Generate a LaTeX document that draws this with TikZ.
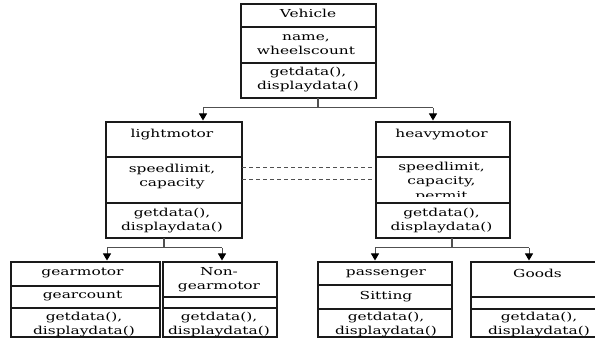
\documentclass[tikz,border=0pt]{standalone}
\usepackage{fontspec}
\usetikzlibrary{arrows.meta,calc}
\newfontfamily\umlfont{DejaVu Serif}[FakeStretch=1.4]
\definecolor{conncol}{HTML}{505050}
\definecolor{boxcol}{HTML}{1A1A1A}
\tikzset{
  umlbox/.style={draw=boxcol, line width=1.3pt, inner sep=0pt, outer sep=0pt, fill=white},
  divider/.style={draw=boxcol, line width=1.3pt},
  txt/.style={font=\umlfont\fontsize{11}{14.5}\selectfont, align=center, inner sep=0pt, text height=8pt, text depth=2.5pt, text=black},
  conn/.style={draw=conncol, line width=1pt},
  stem/.style={draw=conncol, line width=1.6pt},
  arrowconn/.style={draw=conncol, line width=1pt, -{Triangle[width=8pt,length=7pt,color=black]}, shorten >=1.5pt},
  dashline/.style={draw=conncol, line width=1pt, dash pattern=on 4pt off 3pt}
}
\begin{document}
\begin{tikzpicture}[x=1pt,y=-1pt]
\useasboundingbox (0,0) rectangle (595,347);
% ---------- boxes ----------
\node[umlbox, minimum width=135pt, minimum height=94pt] (veh) at (308.5,51) {};
\node[umlbox, minimum width=136pt, minimum height=116pt] (lm) at (174,180) {};
\node[umlbox, minimum width=134pt, minimum height=116pt] (hm) at (443,180) {};
\node[umlbox, minimum width=149pt, minimum height=75pt] (gm) at (85.5,299.5) {};
\node[umlbox, minimum width=114pt, minimum height=75pt] (ngm) at (220,299.5) {};
\node[umlbox, minimum width=134pt, minimum height=75pt] (pas) at (385,299.5) {};
\begin{scope}
\clip (0,0) rectangle (595,347);
\node[umlbox, minimum width=134pt, minimum height=75pt] (gds) at (538,299.5) {};
\draw[divider] (gds.west |- 0,297) -- (gds.east |- 0,297);
\draw[divider] (gds.west |- 0,309) -- (gds.east |- 0,309);
\end{scope}
% ---------- dividers ----------
\draw[divider] (veh.west |- 0,27) -- (veh.east |- 0,27);
\draw[divider] (veh.west |- 0,63) -- (veh.east |- 0,63);
\draw[divider] (lm.west |- 0,157) -- (lm.east |- 0,157);
\draw[divider] (lm.west |- 0,203) -- (lm.east |- 0,203);
\draw[divider] (hm.west |- 0,157) -- (hm.east |- 0,157);
\draw[divider] (hm.west |- 0,203) -- (hm.east |- 0,203);
\draw[divider] (gm.west |- 0,286) -- (gm.east |- 0,286);
\draw[divider] (gm.west |- 0,308) -- (gm.east |- 0,308);
\draw[divider] (ngm.west |- 0,297) -- (ngm.east |- 0,297);
\draw[divider] (ngm.west |- 0,308) -- (ngm.east |- 0,308);
\draw[divider] (pas.west |- 0,285) -- (pas.east |- 0,285);
\draw[divider] (pas.west |- 0,309) -- (pas.east |- 0,309);
% ---------- texts (multi-line nodes are placed at their last line) ----------
\node[txt] (vehT) at (308,15) {Vehicle};
\node[txt] (vehA) at (306,52) {name,\\wheelscount};
\node[txt] (vehM) at (308,87) {getdata(),\\displaydata()};
\node[txt] (lmT) at (172,135) {lightmotor};
\node[txt] (lmA) at (172,184) {speedlimit,\\capacity};
\node[txt] (lmM) at (172,228) {getdata(),\\displaydata()};
\node[txt] (hmT) at (441.5,135) {heavymotor};
\begin{scope}
\clip (hm.west |- 0,158) rectangle (hm.east |- 0,197);
\node[txt] (hmA) at (441.5,196.5) {speedlimit,\\capacity,\\permit};
\end{scope}
\node[txt] (hmM) at (441.5,228) {getdata(),\\displaydata()};
\node[txt] (gmT) at (82.5,273) {gearmotor};
\node[txt] (gmA) at (82.5,296) {gearcount};
\node[txt] (gmM) at (84,332) {getdata(),\\displaydata()};
\node[txt] (ngmT) at (219,287) {Non-\\gearmotor};
\node[txt] (ngmM) at (219,332) {getdata(),\\displaydata()};
\node[txt] (pasT) at (386,273) {passenger};
\node[txt] (pasA) at (386,297) {Sitting};
\node[txt] (pasM) at (386,332) {getdata(),\\displaydata()};
\node[txt] (gdsT) at (537.5,275) {Goods};
\node[txt] (gdsM) at (539,332) {getdata(),\\displaydata()};
% ---------- connectors ----------
\coordinate (v1) at (318,108);
\coordinate (va) at (203,108);
\coordinate (vb) at (433,108);
\draw[stem] (v1 |- veh.south) -- (v1);
\draw[conn] (va) -- (vb);
\draw[arrowconn] (va) -- (va |- lm.north);
\draw[arrowconn] (vb) -- (vb |- hm.north);
\coordinate (l1) at (164,248);
\coordinate (la) at (107,248);
\coordinate (lb) at (222,248);
\draw[stem] (l1 |- lm.south) -- (l1);
\draw[conn] (la) -- (lb);
\draw[arrowconn] (la) -- (la |- gm.north);
\draw[arrowconn] (lb) -- (lb |- ngm.north);
\coordinate (h1) at (452,248);
\coordinate (ha) at (375,248);
\coordinate (hb) at (529,248);
\draw[stem] (h1 |- hm.south) -- (h1);
\draw[conn] (ha) -- (hb);
\draw[arrowconn] (ha) -- (ha |- pas.north);
\draw[arrowconn] (hb) -- (hb |- gds.north);
% dashed links
\draw[dashline] (lm.east |- 0,168) -- ([xshift=-4pt]hm.west |- 0,168);
\draw[dashline] (lm.east |- 0,180) -- ([xshift=-4pt]hm.west |- 0,180);
\end{tikzpicture}
\end{document}
